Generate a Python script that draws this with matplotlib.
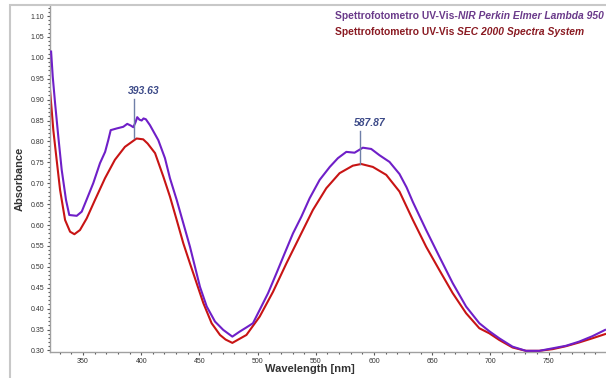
import matplotlib
matplotlib.use("Agg")
import matplotlib.pyplot as plt
from matplotlib.ticker import MultipleLocator, FormatStrFormatter
from matplotlib.patches import Rectangle

plt.rcParams['font.family'] = ['Liberation Sans', 'DejaVu Sans']

# Perkin Elmer Lambda 950 (purple)
pe_wl = [322.6, 324.0, 326.0, 328.8, 331.7, 335.4, 338.2, 344.6, 348.9, 353.0,
         358.8, 364.6, 369.0, 371.7, 373.8, 378.9, 384.6, 388.0, 391.0, 393.2,
         395.0, 396.6, 398.5, 400.4, 402.0, 404.0, 407.5, 414.7, 420.4, 424.7,
         430.5, 436.2, 441.9, 446.2, 450.5, 456.3, 463.4, 470.5, 478.3, 484.6,
         490.4, 496.0, 501.8, 509.0, 516.1, 523.2, 530.4, 537.6, 544.7, 553.3,
         562.0, 569.0, 576.2, 583.3, 590.4, 597.6, 604.7, 613.3, 621.9, 628.0,
         633.4, 639.0, 644.8, 656.2, 667.6, 679.1, 690.5, 699.0, 707.6, 719.0,
         730.5, 742.0, 753.4, 764.8, 776.2, 787.6, 798.5]
pe_abs = [1.015, 0.955, 0.892, 0.811, 0.732, 0.660, 0.624, 0.622, 0.632, 0.660,
          0.700, 0.748, 0.775, 0.803, 0.827, 0.831, 0.835, 0.842, 0.838, 0.834,
          0.845, 0.858, 0.852, 0.850, 0.855, 0.853, 0.839, 0.803, 0.760, 0.712,
          0.660, 0.604, 0.548, 0.500, 0.452, 0.405, 0.369, 0.349, 0.333, 0.345,
          0.355, 0.365, 0.397, 0.437, 0.484, 0.532, 0.580, 0.620, 0.664, 0.708,
          0.739, 0.760, 0.775, 0.773, 0.785, 0.782, 0.767, 0.751, 0.722, 0.690,
          0.655, 0.622, 0.588, 0.524, 0.461, 0.405, 0.365, 0.346, 0.329, 0.309,
          0.299, 0.299, 0.305, 0.311, 0.321, 0.334, 0.349]

# SEC 2000 Spectra System (red)
sec_wl = [321.7, 324.5, 327.4, 330.3, 334.6, 338.9, 342.6, 347.4, 353.2, 360.3,
          368.9, 377.4, 386.0, 396.0, 401.7, 405.5, 411.9, 419.0, 424.7, 430.5,
          436.2, 441.9, 447.6, 453.4, 460.5, 467.7, 472.5, 478.3, 490.4, 501.8,
          513.2, 524.7, 536.1, 547.5, 559.0, 570.4, 581.8, 589.0, 599.0, 610.5,
          621.9, 633.4, 644.8, 656.2, 667.6, 679.1, 690.5, 699.0, 707.6, 719.0,
          730.5, 742.0, 753.4, 764.8, 776.2, 787.6, 798.5]
sec_abs = [0.923, 0.827, 0.755, 0.684, 0.612, 0.584, 0.578, 0.588, 0.616, 0.660,
           0.712, 0.756, 0.787, 0.807, 0.805, 0.795, 0.772, 0.716, 0.668, 0.612,
           0.556, 0.508, 0.461, 0.413, 0.365, 0.337, 0.326, 0.318, 0.337, 0.381,
           0.440, 0.508, 0.572, 0.636, 0.688, 0.724, 0.742, 0.746, 0.739, 0.720,
           0.680, 0.612, 0.548, 0.492, 0.437, 0.389, 0.353, 0.341, 0.325, 0.307,
           0.299, 0.299, 0.303, 0.310, 0.319, 0.329, 0.339]

peak_wl = [393.63, 587.87]
peak_abs = [0.807, 0.746]
peak_top = [0.901, 0.826]

fig = plt.figure(figsize=(6.06, 3.78), dpi=100)
W, H = 606.0, 378.0
ax = fig.add_axes([50 / W, 1 - 352 / H, 556 / W, 346 / H])

# outer frame of the software window
fig.patches.append(Rectangle((10 / W, -0.1), 1.2, (373 + 0.1 * H) / H,
                             transform=fig.transFigure, fill=False,
                             edgecolor='#c8c8c8', lw=1.5))

ax.plot(pe_wl, pe_abs, color='#6f1fc8', lw=1.5, zorder=3)
ax.plot(sec_wl, sec_abs, color='#c81414', lw=1.5, zorder=2)

for wl, a, top in zip(peak_wl, peak_abs, peak_top):
    ax.plot([wl, wl], [a, top], color='#6f7fa8', lw=1, zorder=4)
    ax.annotate('%.2f' % wl, (wl, top), xytext=(-4, 2), textcoords='offset points',
                ha='left', va='bottom', fontsize=7.5, fontweight='bold',
                fontstyle='italic', color='#3c4a88')

ax.set_xlim(321.65, 799.3)
ax.set_ylim(0.2962, 1.124)
ax.xaxis.set_minor_locator(MultipleLocator(10))
ax.yaxis.set_minor_locator(MultipleLocator(0.01))
ax.yaxis.set_major_formatter(FormatStrFormatter('%.2f'))
ax.set_yticks([v / 100 for v in range(30, 111, 5)])
ax.set_xticks(range(350, 751, 50))

for s in ['top', 'right']:
    ax.spines[s].set_visible(False)
for s in ['left', 'bottom']:
    ax.spines[s].set_color('#a0a0a0')
    ax.spines[s].set_linewidth(1)
ax.tick_params(which='major', length=2, width=0.8, color='#555555',
               labelsize=5, labelcolor='#333333', pad=2)
ax.tick_params(which='minor', length=1.5, width=0.8, color='#555555')

ax.set_xlabel('Wavelength [nm]', fontsize=8, fontweight='bold', color='#333333')
ax.xaxis.set_label_coords(260 / 556, -12 / 346)
ax.set_ylabel('Absorbance', fontsize=8, fontweight='bold', color='#333333')
ax.yaxis.set_label_coords(-25 / 556, 0.5)

# legend as coloured text lines
fs = 7.4
fig.text(335 / W, 1 - 16 / H, 'Spettrofotometro UV-Vis-', fontsize=fs,
         fontweight='bold', color='#6a3a8a', va='center', ha='left')
fig.text(335 / W, 1 - 32 / H, 'Spettrofotometro UV-Vis ', fontsize=fs,
         fontweight='bold', color='#8a1a22', va='center', ha='left')

fig.canvas.draw()
r = fig.canvas.get_renderer()
t1 = fig.texts[0].get_window_extent(r)
t2 = fig.texts[1].get_window_extent(r)
fig.text(t1.x1 / W, 1 - 16 / H, 'NIR Perkin Elmer Lambda 950', fontsize=fs,
         fontweight='bold', fontstyle='italic', color='#6a3a8a', va='center', ha='left')
fig.text(t2.x1 / W, 1 - 32 / H, 'SEC 2000 Spectra System', fontsize=fs,
         fontweight='bold', fontstyle='italic', color='#8a1a22', va='center', ha='left')

fig.savefig('out.png', dpi=100)
